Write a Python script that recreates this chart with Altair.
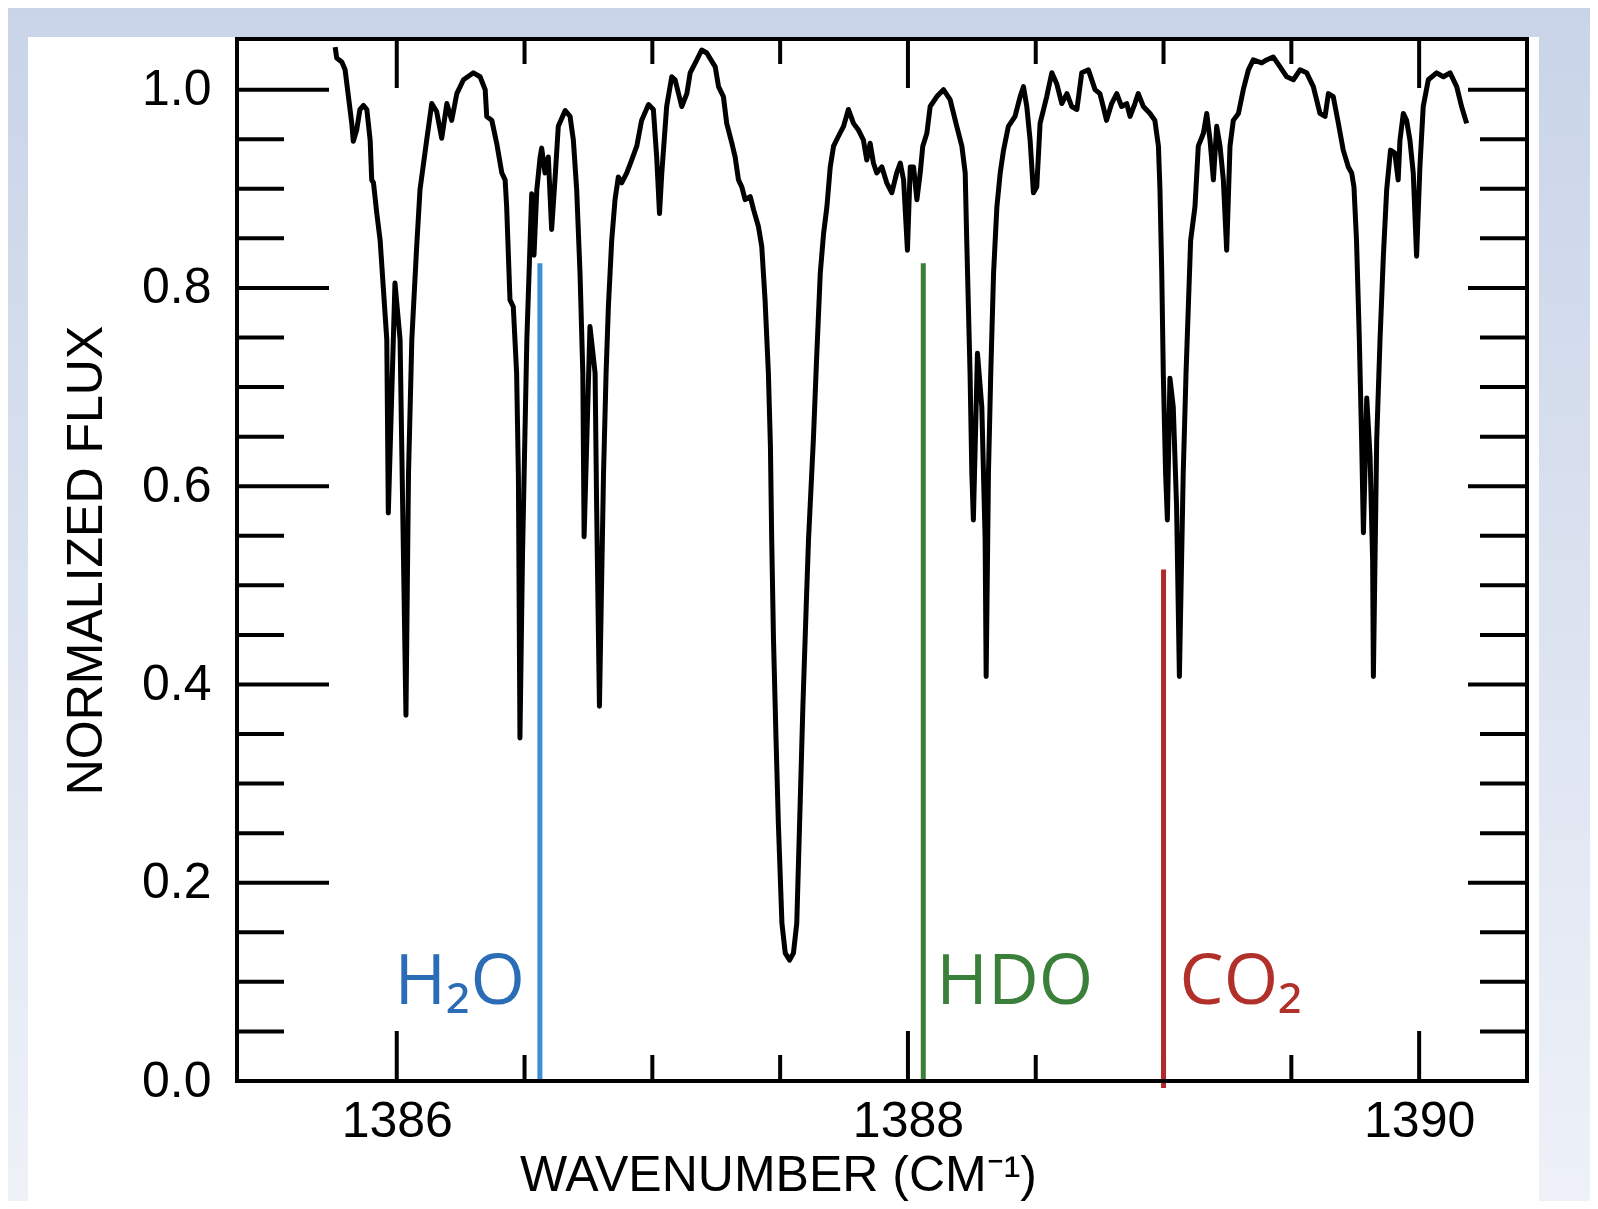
import altair as alt
import pandas as pd

# ---------------- data ----------------
wavenumber = [
    1385.759, 1385.765, 1385.785, 1385.798, 1385.811, 1385.824, 1385.830, 1385.843, 1385.856, 1385.870,
    1385.883, 1385.896, 1385.902, 1385.909, 1385.922, 1385.935, 1385.948, 1385.961, 1385.967, 1385.993,
    1386.013, 1386.036, 1386.046, 1386.059, 1386.078, 1386.091, 1386.117, 1386.137, 1386.156, 1386.176,
    1386.196, 1386.215, 1386.235, 1386.261, 1386.300, 1386.326, 1386.346, 1386.352, 1386.372, 1386.391,
    1386.411, 1386.424, 1386.430, 1386.443, 1386.456, 1386.469, 1386.476, 1386.482, 1386.492, 1386.509,
    1386.522, 1386.528, 1386.537, 1386.548, 1386.561, 1386.567, 1386.580, 1386.593, 1386.606, 1386.619,
    1386.632, 1386.659, 1386.678, 1386.691, 1386.704, 1386.717, 1386.728, 1386.733, 1386.756, 1386.776,
    1386.782, 1386.793, 1386.809, 1386.819, 1386.828, 1386.841, 1386.854, 1386.867, 1386.880, 1386.900,
    1386.919, 1386.939, 1386.958, 1386.985, 1387.004, 1387.017, 1387.028, 1387.037, 1387.056, 1387.076,
    1387.089, 1387.115, 1387.135, 1387.148, 1387.174, 1387.193, 1387.213, 1387.246, 1387.259, 1387.278,
    1387.291, 1387.311, 1387.324, 1387.337, 1387.350, 1387.363, 1387.383, 1387.396, 1387.415, 1387.428,
    1387.441, 1387.454, 1387.462, 1387.467, 1387.474, 1387.484, 1387.493, 1387.507, 1387.520, 1387.537,
    1387.552, 1387.565, 1387.578, 1387.589, 1387.602, 1387.611, 1387.630, 1387.643, 1387.657, 1387.670,
    1387.683, 1387.696, 1387.709, 1387.728, 1387.748, 1387.767, 1387.787, 1387.807, 1387.826, 1387.839,
    1387.852, 1387.865, 1387.878, 1387.898, 1387.917, 1387.937, 1387.956, 1387.970, 1387.983, 1387.998,
    1388.009, 1388.022, 1388.035, 1388.048, 1388.058, 1388.074, 1388.087, 1388.113, 1388.139, 1388.165,
    1388.191, 1388.211, 1388.224, 1388.230, 1388.243, 1388.250, 1388.256, 1388.272, 1388.289, 1388.302,
    1388.306, 1388.315, 1388.324, 1388.335, 1388.348, 1388.361, 1388.374, 1388.393, 1388.419, 1388.439,
    1388.452, 1388.465, 1388.478, 1388.491, 1388.504, 1388.517, 1388.543, 1388.563, 1388.582, 1388.602,
    1388.622, 1388.641, 1388.661, 1388.680, 1388.706, 1388.732, 1388.751, 1388.764, 1388.777, 1388.797,
    1388.817, 1388.836, 1388.856, 1388.869, 1388.888, 1388.901, 1388.921, 1388.947, 1388.966, 1388.980,
    1388.986, 1388.993, 1388.999, 1389.008, 1389.015, 1389.025, 1389.038, 1389.051, 1389.062, 1389.077,
    1389.088, 1389.097, 1389.106, 1389.123, 1389.136, 1389.156, 1389.169, 1389.182, 1389.195, 1389.208,
    1389.221, 1389.234, 1389.247, 1389.260, 1389.273, 1389.293, 1389.312, 1389.332, 1389.351, 1389.384,
    1389.403, 1389.429, 1389.456, 1389.482, 1389.508, 1389.534, 1389.560, 1389.586, 1389.612, 1389.632,
    1389.645, 1389.664, 1389.684, 1389.703, 1389.723, 1389.736, 1389.745, 1389.755, 1389.766, 1389.775,
    1389.782, 1389.795, 1389.808, 1389.818, 1389.821, 1389.834, 1389.847, 1389.860, 1389.873, 1389.888,
    1389.905, 1389.918, 1389.925, 1389.938, 1389.951, 1389.964, 1389.977, 1389.990, 1390.003, 1390.016,
    1390.036, 1390.068, 1390.095, 1390.121, 1390.147, 1390.166, 1390.186,
]
flux = [
    1.043, 1.032, 1.028, 1.020, 0.993, 0.966, 0.948, 0.959, 0.980, 0.984,
    0.980, 0.949, 0.909, 0.906, 0.875, 0.848, 0.798, 0.748, 0.573, 0.805,
    0.748, 0.369, 0.613, 0.748, 0.842, 0.899, 0.949, 0.986, 0.978, 0.951,
    0.986, 0.969, 0.996, 1.010, 1.017, 1.013, 1.000, 0.973, 0.969, 0.946,
    0.916, 0.909, 0.882, 0.788, 0.781, 0.714, 0.610, 0.346, 0.530, 0.748,
    0.849, 0.895, 0.833, 0.899, 0.932, 0.941, 0.916, 0.932, 0.859, 0.909,
    0.963, 0.979, 0.973, 0.949, 0.899, 0.815, 0.714, 0.549, 0.761, 0.714,
    0.580, 0.378, 0.613, 0.714, 0.781, 0.848, 0.889, 0.912, 0.906, 0.916,
    0.929, 0.943, 0.969, 0.985, 0.980, 0.932, 0.875, 0.916, 0.983, 1.013,
    1.010, 0.983, 0.996, 1.017, 1.030, 1.040, 1.037, 1.023, 1.003, 0.993,
    0.966, 0.946, 0.932, 0.909, 0.902, 0.889, 0.892, 0.879, 0.862, 0.842,
    0.788, 0.714, 0.640, 0.546, 0.445, 0.344, 0.260, 0.159, 0.129, 0.122,
    0.129, 0.159, 0.277, 0.378, 0.479, 0.546, 0.647, 0.731, 0.815, 0.855,
    0.882, 0.922, 0.943, 0.953, 0.963, 0.980, 0.966, 0.959, 0.949, 0.929,
    0.946, 0.926, 0.916, 0.922, 0.906, 0.896, 0.916, 0.926, 0.909, 0.838,
    0.922, 0.922, 0.889, 0.916, 0.943, 0.956, 0.983, 0.993, 1.000, 0.990,
    0.963, 0.943, 0.916, 0.848, 0.714, 0.613, 0.566, 0.734, 0.680, 0.546,
    0.408, 0.613, 0.714, 0.815, 0.882, 0.916, 0.939, 0.963, 0.973, 0.993,
    1.003, 0.983, 0.949, 0.896, 0.902, 0.966, 0.993, 1.017, 1.006, 0.986,
    0.996, 0.983, 0.980, 1.017, 1.020, 1.000, 0.996, 0.983, 0.969, 0.986,
    0.996, 0.983, 0.986, 0.973, 0.986, 0.996, 0.983, 0.976, 0.969, 0.943,
    0.899, 0.815, 0.714, 0.613, 0.566, 0.709, 0.680, 0.580, 0.408, 0.613,
    0.714, 0.781, 0.848, 0.882, 0.943, 0.956, 0.976, 0.949, 0.909, 0.963,
    0.943, 0.909, 0.838, 0.943, 0.969, 0.976, 1.000, 1.020, 1.030, 1.027,
    1.030, 1.033, 1.023, 1.013, 1.010, 1.020, 1.017, 1.003, 0.976, 0.973,
    0.996, 0.993, 0.966, 0.939, 0.922, 0.916, 0.902, 0.848, 0.748, 0.647,
    0.553, 0.689, 0.630, 0.526, 0.408, 0.647, 0.748, 0.832, 0.899, 0.939,
    0.936, 0.909, 0.949, 0.976, 0.969, 0.949, 0.916, 0.832, 0.922, 0.983,
    1.010, 1.017, 1.013, 1.017, 1.003, 0.983, 0.966,
]

mol_names = ["H₂O", "HDO", "CO₂"]
mol_wn = [1386.56, 1388.06, 1389.0]
mol_top = [0.825, 0.825, 0.516]
mol_bottom = [0.0, 0.0, -0.007]
mol_label_flux = [0.078, 0.078, 0.078]

x_major_ticks = [1386.0, 1388.0, 1390.0]
x_minor_ticks = [1386.5, 1387.0, 1387.5, 1388.5, 1389.0, 1389.5]
y_major_ticks = [0.2, 0.4, 0.6, 0.8, 1.0]
y_minor_ticks = [0.05, 0.10, 0.15, 0.25, 0.30, 0.35, 0.45, 0.50, 0.55,
                 0.65, 0.70, 0.75, 0.85, 0.90, 0.95]
x_label_values = [1386, 1388, 1390]
y_label_values = [0.0, 0.2, 0.4, 0.6, 0.8, 1.0]

# ---------------- styling ----------------
W, H = 1290, 1042
PAD = {"left": 229, "top": 31, "right": 63, "bottom": 120}
FONT = "Liberation Sans"
LFONT = "Open Sans, Noto Sans, DejaVu Sans"
line_colors = ["#3b8fd3", "#3c7f36", "#b3282b"]
text_colors = ["#2b6cb6", "#3a7f3a", "#b2302a"]
TICKW = 4

spec_df = pd.DataFrame({"wn": wavenumber, "flux": flux})
mol_df = pd.DataFrame({"name": mol_names, "wn": mol_wn, "top": mol_top,
                       "bottom": mol_bottom, "ly": mol_label_flux})

xs = alt.Scale(domain=[1385.375, 1390.422], nice=False, zero=False)
ys = alt.Scale(domain=[0, 1.0511], nice=False, zero=False)

xaxis = alt.Axis(values=x_label_values, format="d", ticks=False, tickSize=0, domain=False,
                 grid=False, labelFont=FONT, labelFontSize=50, labelColor="black",
                 labelPadding=15, labelFlush=False, labelOverlap=False,
                 title="WAVENUMBER (CM⁻¹)", titleFont=FONT, titleFontSize=50,
                 titleFontWeight="normal", titleColor="black", titleX=541, titleY=109,
                 titleAlign="center", titleBaseline="alphabetic", zindex=2)
yaxis = alt.Axis(values=y_label_values, format=".1f", ticks=False, tickSize=0, domain=False,
                 grid=False, labelFont=FONT, labelFontSize=50, labelColor="black",
                 labelPadding=26, labelFlush=False, labelOverlap=False,
                 title="NORMALIZED FLUX", titleFont=FONT, titleFontSize=50,
                 titleFontWeight="normal", titleColor="black", titleX=-151, titleY=521,
                 titleAngle=270, titleAlign="center", titleBaseline="middle", zindex=2)


def X(field):
    return alt.X(field, type="quantitative", scale=xs, axis=xaxis)


def Y(field):
    return alt.Y(field, type="quantitative", scale=ys, axis=yaxis)


one = alt.Data(values=[{}])

gradient = alt.LinearGradient(
    gradient="linear",
    stops=[alt.GradientStop(color="#c9d4e8", offset=0),
           alt.GradientStop(color="#eef1f8", offset=1)],
    x1=0, x2=0, y1=0, y2=1)

bg = alt.Chart(one).mark_rect(color=gradient).encode(
    x=alt.value(-PAD["left"]), x2=alt.value(W + PAD["right"]),
    y=alt.value(-PAD["top"]), y2=alt.value(H + PAD["bottom"]))
panel = alt.Chart(one).mark_rect(color="white").encode(
    x=alt.value(-209), x2=alt.value(1302), y=alt.value(-2), y2=alt.value(H + PAD["bottom"]))

xmaj = pd.DataFrame({"v": x_major_ticks})
xmin = pd.DataFrame({"v": x_minor_ticks})
ymaj = pd.DataFrame({"v": y_major_ticks})
ymin = pd.DataFrame({"v": y_minor_ticks})

rule = dict(color="black", strokeWidth=TICKW)
ticks = [
    alt.Chart(xmaj).mark_rule(**rule).encode(x=X("v"), y=alt.value(H), y2=alt.value(H - 50)),
    alt.Chart(xmin).mark_rule(**rule).encode(x=X("v"), y=alt.value(H), y2=alt.value(H - 26)),
    alt.Chart(xmaj).mark_rule(**rule).encode(x=X("v"), y=alt.value(0), y2=alt.value(49)),
    alt.Chart(xmin).mark_rule(**rule).encode(x=X("v"), y=alt.value(0), y2=alt.value(25)),
    alt.Chart(ymaj).mark_rule(**rule).encode(y=Y("v"), x=alt.value(0), x2=alt.value(92)),
    alt.Chart(ymin).mark_rule(**rule).encode(y=Y("v"), x=alt.value(0), x2=alt.value(47)),
    alt.Chart(ymaj).mark_rule(**rule).encode(y=Y("v"), x=alt.value(W), x2=alt.value(W - 59)),
    alt.Chart(ymin).mark_rule(**rule).encode(y=Y("v"), x=alt.value(W), x2=alt.value(W - 47)),
]

mol_lines = alt.Chart(mol_df).mark_rule(strokeWidth=5).encode(
    x=X("wn"), y=Y("top"), y2="bottom",
    color=alt.Color("name:N", scale=alt.Scale(domain=mol_names, range=line_colors), legend=None))

spectrum = alt.Chart(spec_df).mark_line(color="black", strokeWidth=5, strokeJoin="round").encode(
    x=X("wn"), y=Y("flux"))

frame = alt.Chart(one).mark_rect(filled=False, stroke="black", strokeWidth=TICKW).encode(
    x=alt.value(0), x2=alt.value(W), y=alt.value(0), y2=alt.value(H))

txt = dict(fontSize=70, font=LFONT, baseline="alphabetic")
labels = []
for name, col, al, dx in zip(mol_names, text_colors, ["right", "left", "left"], [-15, 13, 16]):
    labels.append(
        alt.Chart(mol_df).transform_filter(alt.datum.name == name)
        .mark_text(align=al, dx=dx, color=col, **txt)
        .encode(x=X("wn"), y=Y("ly"), text="name:N"))

chart = alt.layer(bg, panel, *ticks, mol_lines, spectrum, frame, *labels).properties(
    width=W, height=H,
    autosize=alt.AutoSizeParams(type="none"),
    padding=PAD,
).configure_view(strokeWidth=0).configure(background="white")

chart.save("out.html", embed_options={"renderer": "svg", "actions": False})
